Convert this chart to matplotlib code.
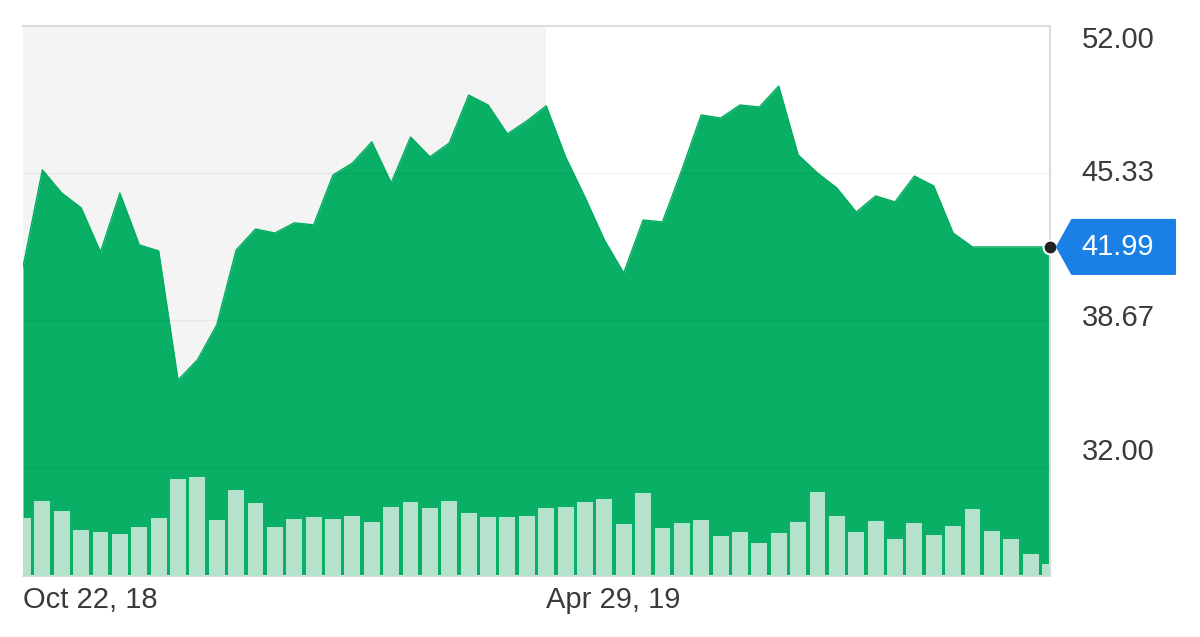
import matplotlib
matplotlib.use('Agg')
import matplotlib.pyplot as plt
import matplotlib.transforms as mtransforms
from matplotlib.patches import Polygon

plt.rcParams['font.family'] = ['Liberation Sans', 'DejaVu Sans']

# weekly closes, Oct 22 2018 .. Oct 28 2019
weeks = list(range(54))
close = [41.08, 45.48, 44.43, 43.76, 41.76, 44.43, 42.08, 41.81, 35.96, 36.87,
         38.46, 41.85, 42.80, 42.62, 43.08, 42.99, 45.25, 45.79, 46.75, 44.89,
         46.97, 46.07, 46.70, 48.87, 48.42, 47.11, 47.70, 48.38, 46.07, 44.25,
         42.31, 40.81, 43.21, 43.12, 45.48, 47.97, 47.83, 48.42, 48.33, 49.28,
         46.16, 45.34, 44.66, 43.57, 44.30, 44.03, 45.20, 44.75, 42.62, 41.99,
         41.99, 41.99, 41.99, 41.99]
volume = [5.83, 7.53, 6.47, 4.60, 4.43, 4.17, 4.93, 5.77, 9.70, 9.93,
          5.60, 8.60, 7.27, 4.93, 5.70, 5.87, 5.67, 5.97, 5.43, 6.87,
          7.43, 6.77, 7.47, 6.33, 5.93, 5.93, 6.00, 6.77, 6.90, 7.40,
          7.67, 5.20, 8.33, 4.83, 5.33, 5.60, 4.00, 4.40, 3.27, 4.33,
          5.43, 8.40, 6.00, 4.43, 5.50, 3.67, 5.30, 4.10, 4.97, 6.73,
          4.50, 3.73, 2.20, 1.17]
x_tick_pos = [0, 27]
x_tick_labels = ["Oct 22, 18", "Apr 29, 19"]
y_ticks = [52.00, 45.33, 38.67, 32.00]
last_price = 41.99

GREEN = '#00ad5f'
BAR = '#b4e2cc'
BORDER = '#dcdcdc'
TEXT = '#3a3a3a'

fig = plt.figure(figsize=(12, 6.37), dpi=100)
ax = fig.add_axes([23 / 1200, 61 / 637, 1027 / 1200, 550 / 637])
ax.set_xlim(0, 53)
ax.set_ylim(27.08, 52.0)

# grey shading for the first half of the range
ax.axvspan(x_tick_pos[0], x_tick_pos[1], color='#f4f4f4', zorder=0, lw=0)

ax.fill_between(weeks, close, 27.08, color=GREEN, alpha=0.97, lw=0, zorder=1)
ax.plot(weeks, close, color=GREEN, lw=1, zorder=2)

for v in y_ticks[1:]:
    ax.axhline(v, color='black', alpha=0.05, lw=1, zorder=3)

for side in ['top', 'right', 'bottom']:
    ax.spines[side].set_color(BORDER)
    ax.spines[side].set_linewidth(1.5)
ax.spines['left'].set_visible(False)

ax.set_yticks([])
ax.set_xticks(x_tick_pos, x_tick_labels)
ax.tick_params(axis='x', length=0, pad=7, labelsize=21, labelcolor=TEXT)
plt.setp(ax.get_xticklabels(), ha='left')

# volume bars on a twin axis
ax2 = ax.twinx()
ax2.bar(weeks, volume, width=0.82, color=BAR, lw=0, zorder=2)
ax2.set_ylim(0, 55)
ax2.set_yticks([])
for s in ax2.spines.values():
    s.set_visible(False)

# price labels on the right (pixel shift, positive = up)
trans = mtransforms.blended_transform_factory(ax.transAxes, ax.transData)
label_shift = [-14, 0, 2, 15]
for v, dy in zip(y_ticks, label_shift):
    t = mtransforms.offset_copy(trans, fig=fig, x=0, y=dy * 72 / fig.dpi, units='points')
    ax.text(1.031, v, f"{v:.2f}", transform=t, ha='left', va='center',
            fontsize=21, color=TEXT, clip_on=False)

# last price marker and tag
ax2.plot([1.0], [0], alpha=0)  # keep twin limits untouched
ax.plot([weeks[-1]], [last_price], 'o', ms=10, color='#222222', mec='white',
        mew=1.5, clip_on=False, zorder=10)
px, py = ax.transData.transform((weeks[-1], last_price))
tag = [(px + 7, py), (px + 22, py + 27), (px + 125, py + 27),
       (px + 125, py - 27), (px + 22, py - 27)]
tag_patch = Polygon(tag, closed=True, transform=mtransforms.IdentityTransform(),
                    facecolor='#1a80e6', edgecolor='#1a80e6', lw=1.5,
                    joinstyle='round', zorder=9)
tag_patch.set_clip_on(False)
ax2.add_artist(tag_patch)
ax2.text(1.031, last_price, f"{last_price:.2f}", transform=trans, ha='left',
         va='center', fontsize=21, color='white', clip_on=False, zorder=11)

fig.savefig('out.png', dpi=100, facecolor='white')
